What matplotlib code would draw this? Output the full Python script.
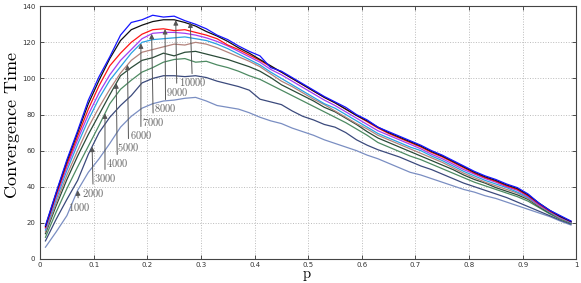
import numpy as np
import matplotlib
matplotlib.use("Agg")
import matplotlib.pyplot as plt
from matplotlib.ticker import FuncFormatter

plt.rcParams['mathtext.fontset'] = 'cm'

p = [0.01, 0.03, 0.05, 0.07, 0.09, 0.11, 0.13, 0.15, 0.17, 0.19,
     0.21, 0.23, 0.25, 0.27, 0.29, 0.31, 0.33, 0.35, 0.37, 0.39,
     0.41, 0.43, 0.45, 0.47, 0.49, 0.51, 0.53, 0.55, 0.57, 0.59,
     0.61, 0.63, 0.65, 0.67, 0.69, 0.71, 0.73, 0.75, 0.77, 0.79,
     0.81, 0.83, 0.85, 0.87, 0.89, 0.91, 0.93, 0.95, 0.97, 0.99]

t1000 = [6.5, 15, 24, 38, 48, 55.5, 64, 73, 79, 83.5,
         86, 87.5, 88, 89, 89.5, 87.5, 85, 84, 83, 81,
         78.5, 76.5, 75, 72.5, 70.5, 68.5, 66, 64, 62, 60,
         57.5, 55.5, 53, 50.5, 48, 46.5, 44.5, 42.5, 40.5, 38.5,
         37, 35, 33.5, 31.5, 29.5, 27.5, 25.5, 23.5, 21, 18.8]
t2000 = [10, 22, 33, 43.5, 58, 70, 78.5, 85, 90.5, 97.5,
         100, 101.5, 101.5, 101, 101.5, 100.5, 98.5, 97, 95.5, 93.5,
         88.5, 87, 85.5, 82, 79, 77, 74.5, 73, 70, 66,
         63, 60.5, 58.5, 56.5, 54, 51.5, 49.5, 47, 44.5, 42,
         40, 38, 36, 34, 31.5, 29, 26.5, 24, 21.5, 19.3]
t3000 = [12, 26, 39, 51, 62.5, 74, 86, 94, 99, 103.5,
         106, 109, 110.5, 111, 109, 109.5, 107.5, 106, 104, 101.5,
         99.5, 96.5, 93.5, 90.5, 87.5, 84.5, 81.5, 78.5, 75.5, 72,
         68.5, 64.5, 62, 59.5, 57, 55, 52.5, 50, 47.5, 45,
         42.5, 40.5, 38.5, 36.5, 34.5, 32, 28.5, 25, 22, 19.8]
t4000 = [14, 29.5, 44, 57, 69, 80, 91, 101.5, 106, 110,
         111.5, 114, 112.5, 114.5, 115, 113.5, 112, 110.5, 108.5, 106.5,
         104, 100.5, 96.5, 93.5, 90.5, 87.5, 84, 81.5, 78, 74.5,
         70.5, 67, 64.5, 62, 59.5, 57, 54.5, 52, 49.5, 46.5,
         44, 42, 39.5, 37.5, 35.5, 33, 29, 25.5, 22.5, 20]
t5000 = [15, 31, 46.5, 60, 73, 84, 94, 103, 110, 114.5,
         116, 117.5, 119, 118.5, 120, 119, 117, 114.5, 112, 109.5,
         106.5, 102.5, 98.5, 95.5, 92, 88.5, 85.5, 82, 78.5, 75,
         72, 68.5, 66, 63.5, 61, 58.5, 56, 53.5, 50.5, 47.5,
         45, 42.5, 40.5, 38.5, 36.5, 33.5, 29.5, 26, 22.5, 20.2]
t6000 = [16, 33, 49, 63.5, 77, 89, 99, 106.5, 114, 120,
         121.5, 122, 122.5, 123, 122, 121, 119, 116.5, 113.5, 110.5,
         107.5, 103.5, 100, 96.5, 93, 89.5, 86, 83.5, 80, 76.5,
         73, 69.5, 67, 64.5, 62, 60, 57, 54.5, 51.5, 48.5,
         46, 43.5, 41.5, 39.5, 37, 34, 30, 26, 23, 20.3]
t7000 = [17, 34.5, 51, 66, 80, 92, 102, 110, 116, 122,
         125, 125.5, 125.5, 125, 124, 122.5, 120.5, 118, 115, 112,
         109, 105, 102, 98.5, 95, 91.5, 88, 85, 81.5, 78,
         74.5, 71, 68.5, 66, 63.5, 61, 58, 55.5, 52.5, 49.5,
         47, 44.5, 42.5, 40, 38, 34.5, 30, 26.5, 23, 20.5]
t8000 = [17.5, 35.5, 52.5, 68, 83, 96, 107, 114, 120, 124.5,
         127, 127.5, 126.5, 127, 125.5, 124, 122, 118.5, 116, 113,
         110, 106.5, 103.5, 100, 96.5, 93, 89.5, 86.5, 83, 79.5,
         76, 72.5, 69.5, 67, 64.5, 62, 59, 56.5, 53.5, 50.5,
         47.5, 45, 43, 40.5, 38.5, 35, 30.5, 26.5, 23.5, 20.7]
t9000 = [18, 36.5, 54, 70, 86, 99, 111, 121, 127, 129.5,
         131.5, 132.5, 132.5, 131, 129, 126, 123.5, 120.5, 117, 114,
         110.5, 107, 103.5, 100, 96.5, 93, 89.5, 86.5, 83, 79.5,
         76.5, 73, 70, 67.5, 65, 62.5, 59.5, 57, 54, 51,
         48, 45.5, 43.5, 41, 39, 35.5, 31, 27, 23.5, 20.8]
t10000 = [18.5, 37, 55, 71, 88, 101, 112, 124, 131, 132.5,
          135, 134, 134.5, 132, 130, 127.5, 124, 121.5, 118, 115,
          112.5, 106, 104, 100.5, 97, 93.5, 90, 87, 84, 80,
          77, 73, 70.5, 68, 65.5, 63, 60, 57.5, 54.5, 51.5,
          48.5, 46, 44, 41.5, 39.5, 36, 31, 27, 24, 21]

series = [t1000, t2000, t3000, t4000, t5000, t6000, t7000, t8000, t9000, t10000]
labels = ['1000', '2000', '3000', '4000', '5000', '6000', '7000', '8000', '9000', '10000']
colors = ['#7a8ec2', '#3b4a7c', '#4d8a62', '#2a4b38', '#b3837c',
          '#29a2e2', '#a33ef2', '#ff1515', '#101010', '#1515ff']

# where the arrows point and where their labels sit
arrow_x = [0.07, 0.097, 0.121, 0.142, 0.163, 0.188, 0.208, 0.233, 0.253, 0.28]
text_x = [0.072, 0.099, 0.121, 0.144, 0.165, 0.188, 0.211, 0.234, 0.255, 0.284]
text_y = [29, 36.6, 44.7, 53, 61.8, 68.5, 76, 83.4, 92.5, 97.8]

fig = plt.figure(figsize=(5.81, 2.83), dpi=100)
ax = fig.add_axes([0.069, 0.085, 0.923, 0.893])

for vals, c in zip(series, colors):
    ax.plot(p, vals, color=c, lw=0.9)

for vals, lab, x, tx, ty in zip(series, labels, arrow_x, text_x, text_y):
    tip = np.interp(x, p, vals)
    ax.annotate(r'$%s$' % lab, xy=(x, tip), xytext=(tx, ty),
                ha='center', va='center', fontsize=7.5, color='#666666',
                arrowprops=dict(arrowstyle='-|>', color='#555555', lw=0.7,
                                mutation_scale=7, shrinkA=0, shrinkB=0))

ax.set_xlim(0, 1)
ax.set_ylim(0, 140)
ax.set_xticks(np.arange(0, 1.01, 0.1))
ax.set_yticks(np.arange(0, 141, 20))
ax.xaxis.set_major_formatter(FuncFormatter(lambda v, pos: f'{v:g}'))
ax.tick_params(direction='in', length=3, width=0.6, labelsize=5,
               top=True, right=True, colors='#333333')
ax.tick_params(axis='x', pad=2)
ax.grid(True, linestyle=':', color='#bbbbbb', lw=0.7)
for s in ax.spines.values():
    s.set_color('#444444')
    s.set_linewidth(0.8)

ax.set_ylabel(r'$\mathrm{Convergence\ Time}$', fontsize=13)
ax.yaxis.set_label_coords(-0.034, 0.53)
ax.set_xlabel(r'$\mathrm{p}$', fontsize=10.5)
ax.xaxis.set_label_coords(0.497, -0.037)

fig.savefig('out.png', dpi=100)
